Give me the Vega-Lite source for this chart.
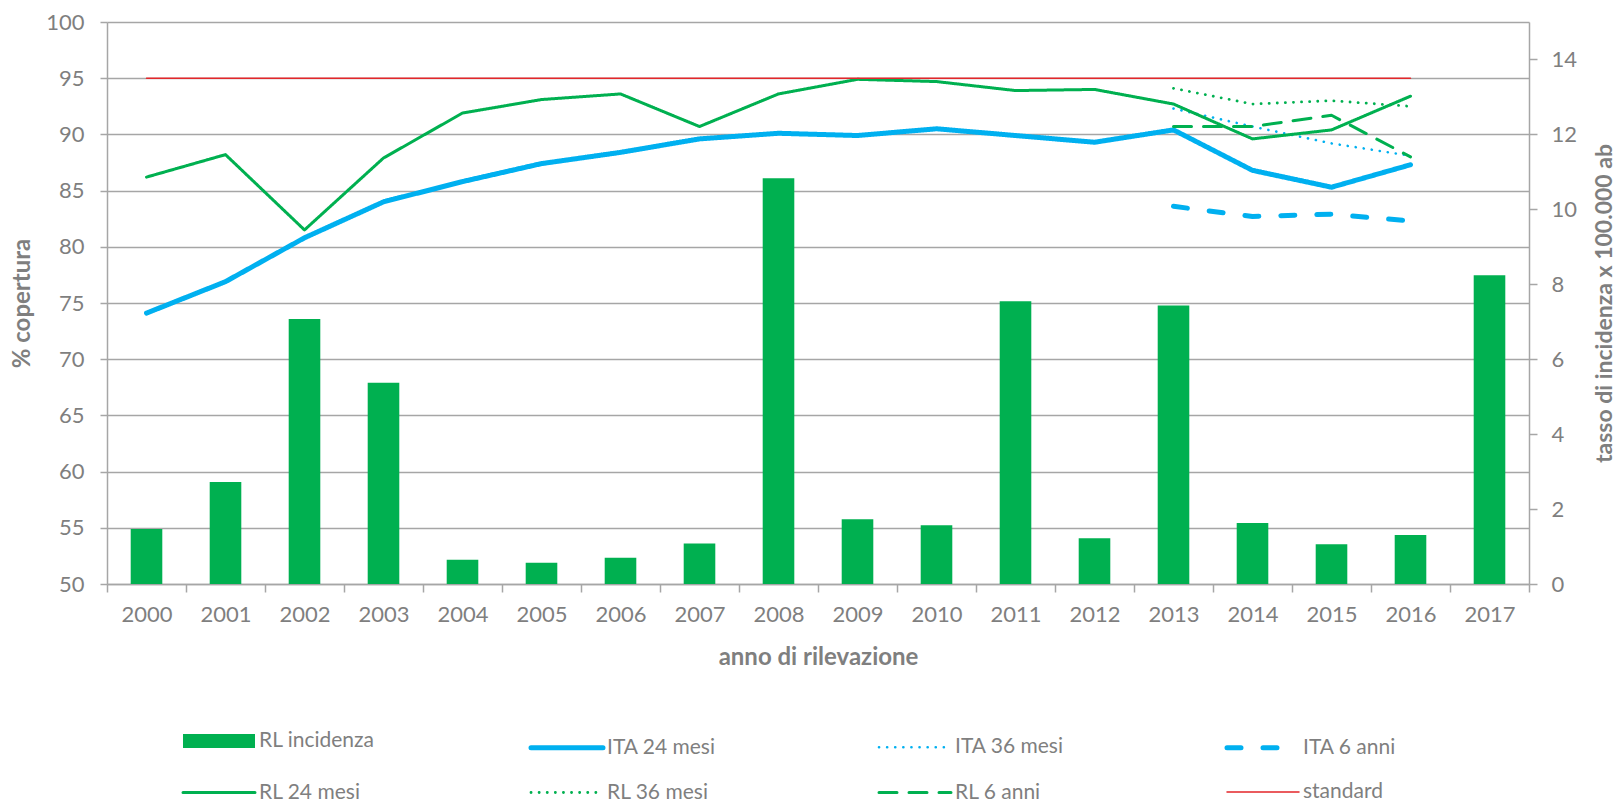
{
  "$schema": "https://vega.github.io/schema/vega-lite/v6.json",
  "width": 1422,
  "height": 562,
  "autosize": {"type": "none"},
  "padding": {"left": 107, "top": 22, "right": 88, "bottom": 217},
  "background": "white",
  "config": {
    "font": "Lato",
    "view": {"stroke": null},
    "axis": {
      "labelFont": "Lato", "labelFontSize": 22, "labelColor": "#7f7f7f",
      "titleFont": "Lato", "titleFontSize": 24, "titleFontWeight": "bold", "titleColor": "#7f7f7f",
      "domainColor": "#a6a6a6", "domainWidth": 1.5, "tickColor": "#a6a6a6", "tickWidth": 1.5,
      "gridColor": "#a6a6a6", "gridWidth": 1.3
    }
  },
  "data": {
    "values": [
      {"anno": 2000, "serie": "RL incidenza", "valore": 1.47},
      {"anno": 2001, "serie": "RL incidenza", "valore": 2.72},
      {"anno": 2002, "serie": "RL incidenza", "valore": 7.07},
      {"anno": 2003, "serie": "RL incidenza", "valore": 5.37},
      {"anno": 2004, "serie": "RL incidenza", "valore": 0.65},
      {"anno": 2005, "serie": "RL incidenza", "valore": 0.57},
      {"anno": 2006, "serie": "RL incidenza", "valore": 0.70},
      {"anno": 2007, "serie": "RL incidenza", "valore": 1.08},
      {"anno": 2008, "serie": "RL incidenza", "valore": 10.83},
      {"anno": 2009, "serie": "RL incidenza", "valore": 1.73},
      {"anno": 2010, "serie": "RL incidenza", "valore": 1.57},
      {"anno": 2011, "serie": "RL incidenza", "valore": 7.55},
      {"anno": 2012, "serie": "RL incidenza", "valore": 1.22},
      {"anno": 2013, "serie": "RL incidenza", "valore": 7.43},
      {"anno": 2014, "serie": "RL incidenza", "valore": 1.63},
      {"anno": 2015, "serie": "RL incidenza", "valore": 1.06},
      {"anno": 2016, "serie": "RL incidenza", "valore": 1.31},
      {"anno": 2017, "serie": "RL incidenza", "valore": 8.24},

      {"anno": 2000, "serie": "ITA 24 mesi", "valore": 74.1},
      {"anno": 2001, "serie": "ITA 24 mesi", "valore": 76.9},
      {"anno": 2002, "serie": "ITA 24 mesi", "valore": 80.8},
      {"anno": 2003, "serie": "ITA 24 mesi", "valore": 84.0},
      {"anno": 2004, "serie": "ITA 24 mesi", "valore": 85.8},
      {"anno": 2005, "serie": "ITA 24 mesi", "valore": 87.4},
      {"anno": 2006, "serie": "ITA 24 mesi", "valore": 88.4},
      {"anno": 2007, "serie": "ITA 24 mesi", "valore": 89.6},
      {"anno": 2008, "serie": "ITA 24 mesi", "valore": 90.1},
      {"anno": 2009, "serie": "ITA 24 mesi", "valore": 89.9},
      {"anno": 2010, "serie": "ITA 24 mesi", "valore": 90.5},
      {"anno": 2011, "serie": "ITA 24 mesi", "valore": 89.9},
      {"anno": 2012, "serie": "ITA 24 mesi", "valore": 89.3},
      {"anno": 2013, "serie": "ITA 24 mesi", "valore": 90.4},
      {"anno": 2014, "serie": "ITA 24 mesi", "valore": 86.8},
      {"anno": 2015, "serie": "ITA 24 mesi", "valore": 85.3},
      {"anno": 2016, "serie": "ITA 24 mesi", "valore": 87.3},

      {"anno": 2013, "serie": "ITA 36 mesi", "valore": 92.3},
      {"anno": 2014, "serie": "ITA 36 mesi", "valore": 90.7},
      {"anno": 2015, "serie": "ITA 36 mesi", "valore": 89.2},
      {"anno": 2016, "serie": "ITA 36 mesi", "valore": 88.1},

      {"anno": 2013, "serie": "ITA 6 anni", "valore": 83.6},
      {"anno": 2014, "serie": "ITA 6 anni", "valore": 82.7},
      {"anno": 2015, "serie": "ITA 6 anni", "valore": 82.9},
      {"anno": 2016, "serie": "ITA 6 anni", "valore": 82.3},

      {"anno": 2000, "serie": "RL 24 mesi", "valore": 86.2},
      {"anno": 2001, "serie": "RL 24 mesi", "valore": 88.2},
      {"anno": 2002, "serie": "RL 24 mesi", "valore": 81.5},
      {"anno": 2003, "serie": "RL 24 mesi", "valore": 87.9},
      {"anno": 2004, "serie": "RL 24 mesi", "valore": 91.9},
      {"anno": 2005, "serie": "RL 24 mesi", "valore": 93.1},
      {"anno": 2006, "serie": "RL 24 mesi", "valore": 93.6},
      {"anno": 2007, "serie": "RL 24 mesi", "valore": 90.7},
      {"anno": 2008, "serie": "RL 24 mesi", "valore": 93.6},
      {"anno": 2009, "serie": "RL 24 mesi", "valore": 94.9},
      {"anno": 2010, "serie": "RL 24 mesi", "valore": 94.7},
      {"anno": 2011, "serie": "RL 24 mesi", "valore": 93.9},
      {"anno": 2012, "serie": "RL 24 mesi", "valore": 94.0},
      {"anno": 2013, "serie": "RL 24 mesi", "valore": 92.7},
      {"anno": 2014, "serie": "RL 24 mesi", "valore": 89.6},
      {"anno": 2015, "serie": "RL 24 mesi", "valore": 90.4},
      {"anno": 2016, "serie": "RL 24 mesi", "valore": 93.4},

      {"anno": 2013, "serie": "RL 36 mesi", "valore": 94.1},
      {"anno": 2014, "serie": "RL 36 mesi", "valore": 92.7},
      {"anno": 2015, "serie": "RL 36 mesi", "valore": 93.0},
      {"anno": 2016, "serie": "RL 36 mesi", "valore": 92.5},

      {"anno": 2013, "serie": "RL 6 anni", "valore": 90.7},
      {"anno": 2014, "serie": "RL 6 anni", "valore": 90.7},
      {"anno": 2015, "serie": "RL 6 anni", "valore": 91.7},
      {"anno": 2016, "serie": "RL 6 anni", "valore": 88.0},

      {"anno": 2000, "serie": "standard", "valore": 95},
      {"anno": 2001, "serie": "standard", "valore": 95},
      {"anno": 2002, "serie": "standard", "valore": 95},
      {"anno": 2003, "serie": "standard", "valore": 95},
      {"anno": 2004, "serie": "standard", "valore": 95},
      {"anno": 2005, "serie": "standard", "valore": 95},
      {"anno": 2006, "serie": "standard", "valore": 95},
      {"anno": 2007, "serie": "standard", "valore": 95},
      {"anno": 2008, "serie": "standard", "valore": 95},
      {"anno": 2009, "serie": "standard", "valore": 95},
      {"anno": 2010, "serie": "standard", "valore": 95},
      {"anno": 2011, "serie": "standard", "valore": 95},
      {"anno": 2012, "serie": "standard", "valore": 95},
      {"anno": 2013, "serie": "standard", "valore": 95},
      {"anno": 2014, "serie": "standard", "valore": 95},
      {"anno": 2015, "serie": "standard", "valore": 95},
      {"anno": 2016, "serie": "standard", "valore": 95}
    ]
  },
  "encoding": {
    "x": {
      "field": "anno", "type": "ordinal",
      "scale": {"paddingInner": 0, "paddingOuter": 0},
      "axis": {
        "title": "anno di rilevazione", "labelAngle": 0, "tickBand": "extent",
        "tickSize": 8, "labelPadding": 12, "titleY": 73, "titleBaseline": "middle"
      }
    }
  },
  "layer": [
    {
      "transform": [{"filter": "datum.serie === 'RL incidenza'"}],
      "mark": {"type": "bar", "width": {"band": 0.4}},
      "encoding": {
        "y": {
          "field": "valore", "type": "quantitative",
          "scale": {"domain": [0, 15], "nice": false, "zero": true},
          "axis": {
            "orient": "right", "title": "tasso di incidenza x 100.000 ab",
            "values": [0, 2, 4, 6, 8, 10, 12, 14], "grid": false,
            "tickSize": 8, "labelPadding": 14, "titleFontSize": 23,
            "titleAngle": 270, "titleX": 75, "titleY": 281, "titleBaseline": "middle"
          }
        },
        "color": {
          "field": "serie", "type": "nominal",
          "scale": {
            "domain": ["RL incidenza", "ITA 24 mesi", "ITA 36 mesi", "ITA 6 anni", "RL 24 mesi", "RL 36 mesi", "RL 6 anni", "standard"],
            "range": ["#00b050", "#00b0f0", "#00b0f0", "#00b0f0", "#00b050", "#00b050", "#00b050", "#e3262a"]
          },
          "legend": {
            "title": null, "orient": "none", "legendX": 93, "legendY": 700,
            "direction": "horizontal", "columns": 4, "gridAlign": "all",
            "columnPadding": 146, "rowPadding": 10, "padding": 0,
            "symbolType": "M-3,0H3", "symbolSize": 576, "labelOffset": 21,
            "labelFont": "Lato", "labelFontSize": 21, "labelColor": "#7f7f7f", "labelLimit": 300,
            "encode": {
              "symbols": {
                "update": {
                  "shape": {"value": "M-3,0H3"},
                  "fill": {"value": "transparent"},
                  "opacity": {"value": 1},
                  "stroke": {"scale": "color", "field": "value"},
                  "strokeDash": {"scale": "strokeDash", "field": "value"},
                  "strokeWidth": {"scale": "strokeWidth", "field": "value"},
                  "strokeCap": [{"test": "datum.value === 'RL incidenza'", "value": "butt"}, {"value": "round"}]
                }
              }
            }
          }
        }
      }
    },
    {
      "transform": [{"filter": "datum.serie !== 'RL incidenza'"}],
      "mark": {"type": "line", "strokeCap": "round", "strokeJoin": "round"},
      "encoding": {
        "y": {
          "field": "valore", "type": "quantitative",
          "scale": {"domain": [50, 100], "nice": false, "zero": false},
          "axis": {
            "orient": "left", "title": "% copertura",
            "values": [50, 55, 60, 65, 70, 75, 80, 85, 90, 95, 100], "grid": true,
            "tickSize": 7, "labelPadding": 16, "domain": true,
            "titleAngle": 270, "titleX": -85, "titleY": 281, "titleBaseline": "middle"
          }
        },
        "color": {
          "field": "serie", "type": "nominal",
          "scale": {
            "domain": ["RL incidenza", "ITA 24 mesi", "ITA 36 mesi", "ITA 6 anni", "RL 24 mesi", "RL 36 mesi", "RL 6 anni", "standard"],
            "range": ["#00b050", "#00b0f0", "#00b0f0", "#00b0f0", "#00b050", "#00b050", "#00b050", "#e3262a"]
          },
          "legend": {
            "title": null, "orient": "none", "legendX": 93, "legendY": 700,
            "direction": "horizontal", "columns": 4, "gridAlign": "all",
            "columnPadding": 146, "rowPadding": 10, "padding": 0,
            "symbolType": "M-3,0H3", "symbolSize": 576, "labelOffset": 21,
            "labelFont": "Lato", "labelFontSize": 21, "labelColor": "#7f7f7f", "labelLimit": 300,
            "encode": {
              "symbols": {
                "update": {
                  "shape": {"value": "M-3,0H3"},
                  "fill": {"value": "transparent"},
                  "opacity": {"value": 1},
                  "stroke": {"scale": "color", "field": "value"},
                  "strokeDash": {"scale": "strokeDash", "field": "value"},
                  "strokeWidth": {"scale": "strokeWidth", "field": "value"},
                  "strokeCap": [{"test": "datum.value === 'RL incidenza'", "value": "butt"}, {"value": "round"}]
                }
              }
            }
          }
        },
        "strokeDash": {
          "field": "serie", "type": "nominal", "legend": null,
          "scale": {
            "domain": ["RL incidenza", "ITA 24 mesi", "ITA 36 mesi", "ITA 6 anni", "RL 24 mesi", "RL 36 mesi", "RL 6 anni", "standard"],
            "range": [[1, 0], [1, 0], [0.1, 8], [14, 22], [1, 0], [0.1, 8], [18, 12], [1, 0]]
          }
        },
        "strokeWidth": {
          "field": "serie", "type": "nominal", "legend": null,
          "scale": {
            "type": "ordinal",
            "domain": ["RL incidenza", "ITA 24 mesi", "ITA 36 mesi", "ITA 6 anni", "RL 24 mesi", "RL 36 mesi", "RL 6 anni", "standard"],
            "range": [14, 5, 2.6, 5, 3, 2.8, 3, 1.5]
          }
        }
      }
    }
  ],
  "resolve": {"scale": {"y": "independent"}}
}
